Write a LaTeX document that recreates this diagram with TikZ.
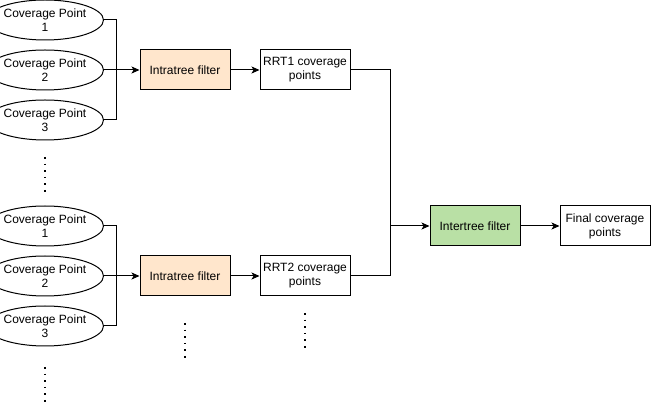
\documentclass[tikz,border=0pt]{standalone}
\usepackage{fontspec}
\setmainfont{Liberation Sans}
\usetikzlibrary{arrows.meta,shapes.geometric,positioning}
\definecolor{cIntra}{HTML}{FFE6CC}
\definecolor{cInter}{HTML}{B9E0A5}
\tikzset{
  every picture/.style={line width=1pt},
  scover/.style={ellipse, draw, minimum width=89pt, minimum height=40pt,
                 inner sep=0pt, align=center, font=\fontsize{12}{14}\selectfont},
  sbox/.style={rectangle, draw, minimum width=90pt, minimum height=40pt,
               inner sep=0pt, align=center, font=\fontsize{12}{14}\selectfont},
  sintra/.style={sbox, fill=cIntra},
  sinter/.style={sbox, fill=cInter},
  sarrow/.style={-{Stealth[length=8pt,width=7pt,inset=2pt]}},
  sdots/.style={line width=1.6pt, dash pattern=on 1.6pt off 5pt},
}

\begin{document}
\begin{tikzpicture}[x=1pt,y=-1pt]
\useasboundingbox (0,0) rectangle (651,403);
% first tree
\node[scover] (cpa1) at (45,20) {Coverage Point\\1};
\node[scover] (cpa2) at (45,70) {Coverage Point\\2};
\node[scover] (cpa3) at (45,120) {Coverage Point\\3};
\node[sintra] (intraA) at (185,70) {Intratree filter};
\node[sbox] (rrtA) at (305,70) {RRT1 coverage\\points};
% second tree
\node[scover] (cpb1) at (45,226) {Coverage Point\\1};
\node[scover] (cpb2) at (45,276) {Coverage Point\\2};
\node[scover] (cpb3) at (45,326) {Coverage Point\\3};
\node[sintra] (intraB) at (185,276) {Intratree filter};
\node[sbox] (rrtB) at (305,276) {RRT2 coverage\\points};
% merge
\node[sinter] (inter) at (475,226) {Intertree filter};
\node[sbox] (final) at (605,226) {Final coverage\\points};

\coordinate (jA) at (116,70);
\coordinate (jB) at (116,276);
\coordinate (jC) at (390,226);

\draw (cpa1) -| (jA);
\draw (cpa3) -| (jA);
\draw[sarrow] (cpa2) -- (intraA);
\draw[sarrow] (intraA) -- (rrtA);
\draw (cpb1) -| (jB);
\draw (cpb3) -| (jB);
\draw[sarrow] (cpb2) -- (intraB);
\draw[sarrow] (intraB) -- (rrtB);
\draw (rrtA) -| (jC);
\draw (rrtB) -| (jC);
\draw[sarrow] (jC) -- (inter);
\draw[sarrow] (inter) -- (final);

% ellipsis dots
\draw[sdots] (45,157) -- (45,192);
\draw[sdots] (45,367) -- (45,402);
\draw[sdots] (185,323) -- (185,358);
\draw[sdots] (305,313) -- (305,348);
\end{tikzpicture}
\end{document}
